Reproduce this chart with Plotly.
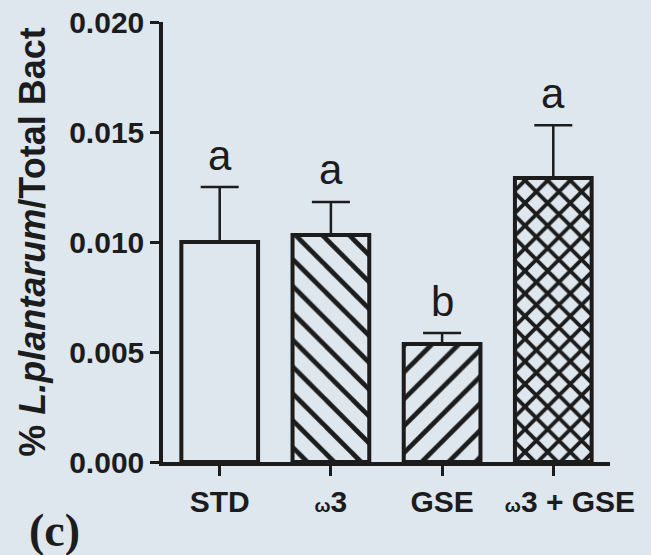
import plotly.graph_objects as go

categories = ["STD", "ω3", "GSE", "ω3 + GSE"]
tick_labels = ["STD",
               "<span style='font-size:19px'>ω</span>3",
               "GSE",
               "&nbsp;&nbsp;&nbsp;&nbsp;<span style='font-size:19px'>ω</span>3 + GSE"]
means = [0.0100, 0.01032, 0.00536, 0.01291]
sem = [0.0025, 0.0015, 0.0005, 0.0024]
letters = ["a", "a", "b", "a"]
patterns = ["", "\\", "/", "x"]
pattern_sizes = [19, 19, 19, 16]
pattern_solidity = [0.25, 0.25, 0.25, 0.42]
y_ticks = [0.000, 0.005, 0.010, 0.015, 0.020]

BG = "#dee6ee"
INK = "#1c1c1c"
x_idx = list(range(len(categories)))

fig = go.Figure()
fig.add_trace(go.Bar(
    x=x_idx, y=means, width=0.69,
    marker=dict(color=BG, line=dict(color=INK, width=4),
                pattern=dict(shape=patterns, size=pattern_sizes, solidity=pattern_solidity,
                             fgcolor=INK, fillmode="replace")),
    error_y=dict(type="data", symmetric=False, array=sem,
                 arrayminus=[0] * len(sem), color=INK, thickness=2.5, width=19),
    showlegend=False,
))

for i, (m, s, l) in enumerate(zip(means, sem, letters)):
    fig.add_annotation(x=i, y=m + s, text=l, showarrow=False, yanchor="middle",
                       yshift=32, font=dict(family="Liberation Sans, Arial", size=42, color=INK))

fig.add_annotation(xref="paper", yref="paper", x=(54 - 163) / 447, y=(462 - 530) / 440,
                   text="<b>(c)</b>", showarrow=False, xanchor="center", yanchor="middle",
                   font=dict(family="Liberation Serif, Times New Roman", size=46, color=INK))

fig.update_layout(
    width=651, height=555,
    margin=dict(l=163, r=41, t=22, b=93),
    paper_bgcolor=BG, plot_bgcolor=BG,
    font=dict(family="Liberation Sans, Arial", color=INK),
    xaxis=dict(range=[-0.51, 3.51], tickvals=x_idx, ticktext=tick_labels,
               showline=True, linecolor=INK, linewidth=3.5, ticks="outside",
               ticklen=10, tickwidth=3, tickcolor=INK, showgrid=False, zeroline=False,
               tickangle=0, automargin=False,
               tickfont=dict(size=30, weight="bold")),
    yaxis=dict(range=[0, 0.020], tickvals=y_ticks, tickformat=".3f",
               showline=True, linecolor=INK, linewidth=3.5, ticks="outside",
               ticklen=9, tickwidth=3, tickcolor=INK, showgrid=False, zeroline=False,
               automargin=False,
               tickfont=dict(size=30, weight="bold"),
               title=dict(text="<b>% <i>L.plantarum</i>/Total Bact</b>",
                          font=dict(size=36), standoff=14)),
)

fig.write_html("out.html",
               config={"displayModeBar": False},
               post_script="document.body.style.margin='0';"
                           "document.body.style.background='" + BG + "';"
                           "document.body.style.overflow='hidden';")
